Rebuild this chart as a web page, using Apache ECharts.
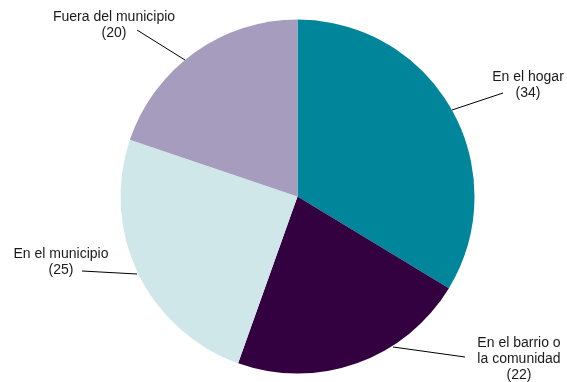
<!DOCTYPE html>
<html>
<head>
<meta charset="utf-8">
<script src="https://cdn.jsdelivr.net/npm/echarts@6/dist/echarts.min.js"></script>
<style>
  html, body { margin: 0; padding: 0; background: #fff; }
  #chart { width: 567px; height: 382px; }
</style>
</head>
<body>
<div id="chart"></div>
<script>
// datos del gráfico
var categories = ['En el hogar', 'En el barrio o\nla comunidad', 'En el municipio', 'Fuera del municipio'];
var values = [34, 22, 25, 20];
var colors = ['#00859B', '#330040', '#D0E7EA', '#A59CBE'];

// posición de cada etiqueta y su línea guía (centro del texto, inicio y fin de la línea)
var labelPos = {
    'En el hogar': { x: 528, y: 85, line: [[452, 110], [503, 93]] },
    'En el barrio o\nla comunidad': { x: 519, y: 359, line: [[393, 347], [465, 357]] },
    'En el municipio': { x: 61, y: 262, line: [[137, 274], [82, 271]] },
    'Fuera del municipio': { x: 114, y: 25, line: [[185, 60], [137, 30]] }
};

var pieData = categories.map(function (c, i) {
    return { name: c, value: values[i], itemStyle: { color: colors[i] } };
});

var chart = echarts.init(document.getElementById('chart'));
var option = {
    animation: false,
    backgroundColor: '#fff',
    series: [
        {
            type: 'pie',
            center: [297.5, 196.5],
            radius: 177,
            startAngle: 90,
            clockwise: true,
            data: pieData,
            itemStyle: { borderWidth: 0 },
            label: {
                show: true,
                formatter: '{b}\n({c})',
                fontFamily: 'Liberation Sans, Arial, sans-serif',
                fontSize: 14,
                lineHeight: 16,
                color: '#1a1a1a',
                align: 'center'
            },
            labelLine: {
                show: true,
                length: 10,
                length2: 0,
                lineStyle: { color: '#000', width: 1 }
            },
            labelLayout: function (params) {
                var p = labelPos[categories[params.dataIndex]];
                return {
                    x: p.x,
                    y: p.y,
                    align: 'center',
                    verticalAlign: 'middle',
                    labelLinePoints: p.line
                };
            },
            emphasis: { disabled: true }
        }
    ]
};
chart.setOption(option);
</script>
</body>
</html>
